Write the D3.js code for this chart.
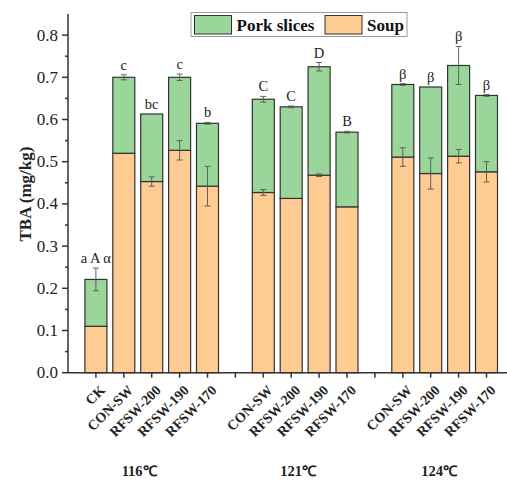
<!DOCTYPE html>
<html><head><meta charset="utf-8">
<script src="https://cdn.jsdelivr.net/npm/d3@7"></script>
<style>body{margin:0;background:#fff}svg{display:block}</style>
</head><body>
<svg id="chart" width="507" height="480"></svg>
<script>
const categories = ["CK","CON-SW","RFSW-200","RFSW-190","RFSW-170","CON-SW","RFSW-200","RFSW-190","RFSW-170","CON-SW","RFSW-200","RFSW-190","RFSW-170"];
const slots = [1,2,3,4,5,7,8,9,10,12,13,14,15];
const soup = [0.110,0.520,0.453,0.527,0.442,0.427,0.413,0.468,0.393,0.511,0.472,0.513,0.476];
const pork = [0.111,0.180,0.160,0.173,0.149,0.221,0.217,0.257,0.177,0.172,0.205,0.215,0.181];
const soupErr = [0,0,0.011,0.023,0.047,0.007,0,0.003,0,0.022,0.037,0.016,0.024];
const totalErr = [0.027,0.006,0,0.0075,0.002,0.0067,0.002,0.010,0.002,0.002,0,0.045,0.002];
const letters = ["a A \u03b1","c","bc","c","b","C","C","D","B","\u03b2","\u03b2","\u03b2","\u03b2"];
const groups = ["116\u2103","121\u2103","124\u2103"];
const groupPos = [2.55,8.25,13.3];
const yTicks = [0,0.1,0.2,0.3,0.4,0.5,0.6,0.7,0.8];
const seriesNames = ["Pork slices","Soup"];
const colors = {pork:"#9ad59a", soup:"#fecb92"};

const svg = d3.select("#chart");
const serif = "'Liberation Serif','Times New Roman',serif";
const x0 = 68, step = 27.9;
const x = d3.scaleLinear().domain([0,16]).range([x0, x0+16*step]);
const y = d3.scaleLinear().domain([0,0.85]).range([372.7,14]);
const bw = 22;

const data = categories.map((c,i)=>({c, s:slots[i], soup:soup[i], pork:pork[i], se:soupErr[i], te:totalErr[i], l:letters[i]}));
const g = svg.append("g");
g.selectAll("rect.soup").data(data).join("rect")
  .attr("x", d=>x(d.s)-bw/2).attr("width", bw)
  .attr("y", d=>y(d.soup)).attr("height", d=>y(0)-y(d.soup))
  .attr("fill", colors.soup).attr("stroke","#333").attr("stroke-width",1.2);
g.selectAll("rect.pork").data(data).join("rect")
  .attr("x", d=>x(d.s)-bw/2).attr("width", bw)
  .attr("y", d=>y(d.soup+d.pork)).attr("height", d=>y(d.soup)-y(d.soup+d.pork))
  .attr("fill", colors.pork).attr("stroke","#333").attr("stroke-width",1.2);

function errbar(cx, v, e){
  if(!e) return;
  const eg = g.append("g").attr("stroke","#555").attr("stroke-width",1).attr("opacity",0.9);
  eg.append("line").attr("x1",cx).attr("x2",cx).attr("y1",y(v+e)).attr("y2",y(v-e));
  eg.append("line").attr("x1",cx-3).attr("x2",cx+3).attr("y1",y(v+e)).attr("y2",y(v+e));
  eg.append("line").attr("x1",cx-3).attr("x2",cx+3).attr("y1",y(v-e)).attr("y2",y(v-e));
}
data.forEach(d=>{ errbar(x(d.s), d.soup, d.se); errbar(x(d.s), d.soup+d.pork, d.te); });

g.selectAll("text.lt").data(data).join("text")
  .attr("x", d=>x(d.s)).attr("y", d=>y(d.soup+d.pork+d.te)-5)
  .attr("text-anchor","middle").attr("font-family",serif).attr("font-size",14.5)
  .attr("fill","#222").text(d=>d.l);

const ax = svg.append("g").attr("stroke","#333").attr("stroke-width",1.5);
ax.append("line").attr("x1",x0).attr("x2",507).attr("y1",y(0)).attr("y2",y(0));
ax.append("line").attr("x1",x0).attr("x2",x0).attr("y1",y(0.85)).attr("y2",y(0));
const yMinor = d3.range(0.05,0.85,0.1);
yTicks.forEach(t=>{ax.append("line").attr("x1",x0-6).attr("x2",x0).attr("y1",y(t)).attr("y2",y(t));});
yMinor.forEach(t=>{ax.append("line").attr("x1",x0-3).attr("x2",x0).attr("y1",y(t)).attr("y2",y(t));});
svg.selectAll("text.yt").data(yTicks).join("text")
  .attr("x", x0-10).attr("y", d=>y(d)+5.5).attr("text-anchor","end")
  .attr("font-family",serif).attr("font-size",17).attr("fill","#222").text(d=>d3.format(".1f")(d));
d3.range(1,16).forEach(s=>{ax.append("line").attr("x1",x(s)).attr("x2",x(s)).attr("y1",y(0)).attr("y2",y(0)+5);});
svg.selectAll("text.xl").data(data).join("text")
  .attr("transform", d=>`translate(${x(d.s)+10},${391}) rotate(-45)`)
  .attr("text-anchor","end").attr("font-family",serif).attr("font-size",14).attr("font-weight","bold")
  .attr("fill","#222").text(d=>d.c);
svg.selectAll("text.gl").data(groups).join("text")
  .attr("x",(d,i)=>x(groupPos[i])).attr("y",476).attr("text-anchor","middle")
  .attr("font-family",serif).attr("font-size",14.5).attr("font-weight","bold").attr("fill","#222").text(d=>d);
svg.append("text").attr("transform","translate(31,194) rotate(-90)").attr("text-anchor","middle")
  .attr("font-family",serif).attr("font-size",17).attr("font-weight","bold").attr("fill","#222").text("TBA (mg/kg)");

const lg = svg.append("g");
lg.append("rect").attr("x",191).attr("y",12.5).attr("width",216).attr("height",24).attr("fill","#fff").attr("stroke","#999").attr("stroke-width",1);
const lx = [194.5, 325];
seriesNames.forEach((n,i)=>{
  lg.append("rect").attr("x",lx[i]).attr("y",15.5).attr("width",37).attr("height",18.5)
    .attr("fill", i===0?colors.pork:colors.soup).attr("stroke","#333").attr("stroke-width",1);
  lg.append("text").attr("x",lx[i]+42).attr("y",30.5).attr("font-family",serif).attr("font-size",17)
    .attr("font-weight","bold").attr("fill","#111").text(n);
});
</script>
</body></html>
